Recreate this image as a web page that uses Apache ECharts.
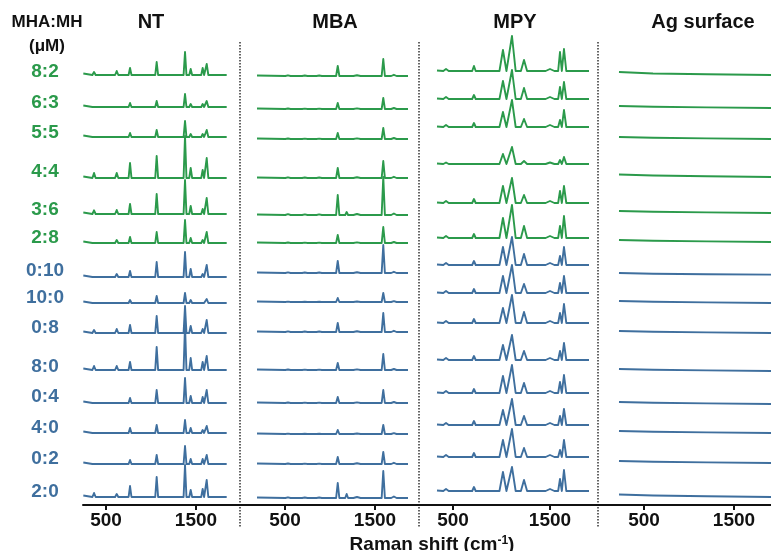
<!DOCTYPE html>
<html>
<head>
<meta charset="utf-8">
<script src="https://cdn.jsdelivr.net/npm/echarts@6/dist/echarts.min.js"></script>
<style>html,body{margin:0;padding:0;background:#fff}#c{width:771px;height:551px}</style>
</head>
<body>
<div id="c"></div>
<script>
// ---------------- DATA ----------------
const rowLabels = ['8:2','6:3','5:5','4:4','3:6','2:8','0:10','10:0','0:8','8:0','0:4','4:0','0:2','2:0'];
const greenRowCount = 6;
const panelTitles = ['NT','MBA','MPY','Ag surface'];
const tickValues = [500, 1500];
const xAxisTitle = 'Raman shift (cm';
const xAxisTitleSup = '-1';

// NT spectra (Raman shift, cm-1; intensity, a.u.)
const ntRange = [248, 1841];
const ntStart = 1.5;
const ntPeakPos = [367, 526, 619, 767, 915, 1063, 1137, 1378, 1441, 1574, 1619];
const ntPeakWidth = [18, 16, 18, 16, 16, 16, 16, 16, 16, 16, 18];
const ntHeights = [
  [3, 1, 4, 7, 1, 13, 1, 23, 6, 7, 11],
  [2, 0.5, 2, 4, 0.5, 6, 0.5, 13, 3, 3, 6],
  [2, 0.5, 2, 4, 0.5, 7, 0.5, 16, 3, 3, 7],
  [5, 1, 5, 15, 1.5, 22, 1.5, 42, 10, 8, 20],
  [3.7, 1, 4, 10, 1.5, 20, 1.5, 34, 8, 5, 16],
  [2, 0.5, 3, 6, 1, 11, 1, 23, 5, 3, 11],
  [2, 0.5, 3, 6, 1, 15, 1, 25, 8, 3, 12],
  [1, 0.3, 1, 3, 0.5, 7, 0.5, 10, 3, 1.5, 4],
  [3, 0.5, 4, 8, 1, 17, 1, 27, 7, 4, 13],
  [4, 1, 4, 8, 1, 23, 1, 45, 12, 8, 14],
  [2, 0.5, 2, 5, 1, 13, 1, 25, 7, 6, 13],
  [1, 0.3, 1, 5, 0.5, 8, 0.5, 13, 5, 3, 7],
  [2, 0.5, 2, 4, 0.5, 9, 0.5, 18, 5, 5, 9],
  [4, 1, 3, 11, 1, 20, 1, 32, 7, 8, 17]
];

// MBA spectra
const mbaRange = [189, 1867];
const mbaStart = 0.5;
const mbaPeakPos = [533, 720, 880, 1086, 1185, 1300, 1592, 1710];
const mbaPeakWidth = [30, 30, 30, 18, 16, 40, 18, 30];
const mbaHeights = [
  [0.7, 0.5, 0.5, 10, 2, 0.8, 17, 1.2],
  [0.5, 0.4, 0.4, 6, 1.5, 0.6, 11, 1],
  [0.5, 0.4, 0.4, 6, 1.5, 0.6, 11, 1],
  [0.7, 0.5, 0.5, 10, 2, 0.8, 17, 1.2],
  [0.8, 0.6, 0.6, 20, 3, 1, 38, 1.5],
  [0.5, 0.4, 0.4, 8, 1.5, 0.6, 16, 1],
  [0.6, 0.5, 0.5, 12, 2, 0.8, 28, 1.2],
  [0.4, 0.3, 0.3, 4, 1, 0.5, 9, 0.8],
  [0.6, 0.5, 0.5, 9, 2, 0.8, 19, 1.2],
  [0.5, 0.4, 0.4, 7, 1.5, 0.6, 16, 1],
  [0.5, 0.4, 0.4, 6, 1.5, 0.6, 13, 1],
  [0.4, 0.3, 0.3, 4, 1, 0.5, 9, 0.8],
  [0.5, 0.4, 0.4, 7, 1.5, 0.8, 12, 1.2],
  [0.7, 0.5, 0.5, 15, 4, 1, 27, 1.5]
];

// MPY spectra
const mpyRange = [335, 1902];
const mpyStart = 0.5;
const mpyPeakPos = [428, 655, 716, 1015, 1108, 1232, 1500, 1603, 1644];
const mpyPeakWidth = [28, 18, 18, 36, 38, 32, 45, 19, 24];
const mpyHeights = [
  [2, 1.5, 5, 21, 35, 11, 2, 19, 22],
  [2, 1.5, 4, 18, 29, 11, 2, 12, 17],
  [2, 1.5, 4, 15, 27, 8, 2, 7, 17],
  [1.5, 1, 2, 10, 17, 3, 1.5, 4, 7],
  [2, 1.5, 4, 17, 25, 8, 2, 12, 17],
  [2, 1.5, 4, 20, 33, 12, 2, 12, 22],
  [2, 1.5, 4, 18, 28, 11, 2, 9, 18],
  [2, 1.5, 4, 17, 28, 9, 2, 10, 17],
  [2, 1.5, 4, 15, 28, 11, 2, 10, 19],
  [2, 1.5, 4, 15, 25, 9, 2, 9, 17],
  [2, 1.5, 4, 17, 28, 10, 2, 11, 18],
  [2, 1.5, 4, 15, 26, 9, 2, 9, 16],
  [2, 1.5, 4, 17, 28, 9, 2, 7, 17],
  [2, 1.5, 4, 19, 24, 11, 2, 12, 21]
];

// Ag surface (flat background)
const agShift = [222, 600, 1200, 1960];
const agLevels = [
  [3, 1.5, 0.7, 0], [2, 1.2, 0.6, 0], [2, 1.2, 0.6, 0], [2.5, 1.5, 0.7, 0],
  [2, 1.2, 0.6, 0], [2, 1.2, 0.6, 0], [2, 1.3, 0.8, 0.3], [2, 1.2, 0.6, 0],
  [2, 1.2, 0.6, 0], [2, 1.2, 0.6, 0], [2, 1.2, 0.6, 0], [2, 1.2, 0.6, 0],
  [2, 1.2, 0.6, 0], [2.5, 1.5, 0.7, 0]
];

// ---------------- LAYOUT / STYLE ----------------
const GREEN = '#2b9a4b';
const BLUE = '#3f6f9e';
const FONT = 'Arial, "Liberation Sans", sans-serif';
const AXIS_Y = 505;
const ROW_H = 50;
const panels = [
  {left: 83,  right: 240, t500: 106, ppk: 90, title: 151,
   base: [75,107,137,178,214,243,277,303,333,370,403,433,464,497]},
  {left: 240, right: 419, t500: 285, ppk: 90, title: 335,
   base: [76,109,139,178,215,243,273,302,332,370,403,434,464,498]},
  {left: 419, right: 598, t500: 453, ppk: 97, title: 515,
   base: [71,99,127,164,203,238,265,293,323,360,393,425,457,491]},
  {left: 598, right: 771, t500: 644, ppk: 90, title: 703,
   base: [75,108,139,177,213,242,275,303,333,371,404,433,463,497]}
];
const labelY = [72,103,133,172,210,238,271,298,328,367,397,428,459,492];
const sepX = [240, 419, 598];

function buildSpectrum(range, start, pos, width, heights) {
  const pts = [[range[0], start]];
  pos.forEach((c, i) => {
    pts.push([c - width[i], 0], [c, heights[i]], [c + width[i], 0]);
  });
  pts.push([range[1], 0]);
  return pts;
}
const panelData = [
  ntHeights.map(h => buildSpectrum(ntRange, ntStart, ntPeakPos, ntPeakWidth, h)),
  mbaHeights.map(h => buildSpectrum(mbaRange, mbaStart, mbaPeakPos, mbaPeakWidth, h)),
  mpyHeights.map(h => buildSpectrum(mpyRange, mpyStart, mpyPeakPos, mpyPeakWidth, h)),
  agLevels.map(l => agShift.map((x, i) => [x, l[i]]))
];

const grid = [], xAxis = [], yAxis = [], series = [];
panels.forEach((p, pi) => {
  const xmin = 500 - (p.t500 - p.left) / p.ppk * 1000;
  const xmax = 500 + (p.right - p.t500) / p.ppk * 1000;
  p.base.forEach((b, ri) => {
    const gi = grid.length;
    grid.push({left: p.left, width: p.right - p.left, top: b - ROW_H, height: ROW_H, outerBoundsMode: 'none'});
    xAxis.push({type: 'value', gridIndex: gi, min: xmin, max: xmax, show: false});
    yAxis.push({type: 'value', gridIndex: gi, min: 0, max: ROW_H, show: false});
    series.push({
      type: 'line', xAxisIndex: gi, yAxisIndex: gi, data: panelData[pi][ri],
      showSymbol: false, symbol: 'none', clip: false, silent: true,
      lineStyle: {width: 1.9, color: ri < greenRowCount ? GREEN : BLUE, join: 'round'}
    });
  });
  // bottom axis grid
  const gi = grid.length;
  grid.push({left: p.left, width: p.right - p.left, top: AXIS_Y - 1, height: 1, outerBoundsMode: 'none'});
  xAxis.push({
    type: 'value', gridIndex: gi, min: xmin, max: xmax, position: 'bottom',
    splitLine: {show: false},
    axisLine: {show: true, onZero: false, lineStyle: {color: '#111', width: 2}},
    axisTick: {show: true, customValues: tickValues, length: 5, inside: false, lineStyle: {color: '#111', width: 2}},
    axisLabel: {show: true, customValues: tickValues, formatter: v => String(v), margin: 6, fontSize: 19, fontWeight: 'bold', color: '#111', fontFamily: FONT}
  });
  yAxis.push({type: 'value', gridIndex: gi, show: false});
});

const graphic = [];
panels.forEach((p, pi) => {
  graphic.push({type: 'text', x: p.title, y: 22, silent: true,
    style: {text: panelTitles[pi], fill: '#111', fontSize: 20, fontWeight: 'bold', fontFamily: FONT, align: 'center', verticalAlign: 'middle'}});
});
graphic.push({type: 'text', x: 47, y: 22, silent: true,
  style: {text: 'MHA:MH', fill: '#111', fontSize: 17, fontWeight: 'bold', fontFamily: FONT, align: 'center', verticalAlign: 'middle'}});
graphic.push({type: 'text', x: 47, y: 46, silent: true,
  style: {text: '(μM)', fill: '#111', fontSize: 17, fontWeight: 'bold', fontFamily: FONT, align: 'center', verticalAlign: 'middle'}});
rowLabels.forEach((t, i) => {
  graphic.push({type: 'text', x: 45, y: labelY[i], silent: true,
    style: {text: t, fill: i < greenRowCount ? GREEN : BLUE, fontSize: 19, fontWeight: 'bold', fontFamily: FONT, align: 'center', verticalAlign: 'middle'}});
});
sepX.forEach(x => {
  graphic.push({type: 'line', silent: true, shape: {x1: x, y1: 42, x2: x, y2: 528},
    style: {stroke: '#333', lineWidth: 1.5, lineDash: [1.5, 1.5]}});
});
graphic.push({type: 'text', x: 432, y: 545, silent: true,
  style: {
    text: '{a|' + xAxisTitle + '}{s|' + xAxisTitleSup + '}{a|)}',
    align: 'center', verticalAlign: 'middle',
    rich: {
      a: {fontSize: 19, fontWeight: 'bold', fontFamily: FONT, fill: '#111', color: '#111'},
      s: {fontSize: 12, fontWeight: 'bold', fontFamily: FONT, fill: '#111', color: '#111', verticalAlign: 'top', padding: [0, 0, 8, 0]}
    }
  }});

const chart = echarts.init(document.getElementById('c'), null, {renderer: 'canvas'});
chart.setOption({animation: false, grid, xAxis, yAxis, series, graphic});
</script>
</body>
</html>
